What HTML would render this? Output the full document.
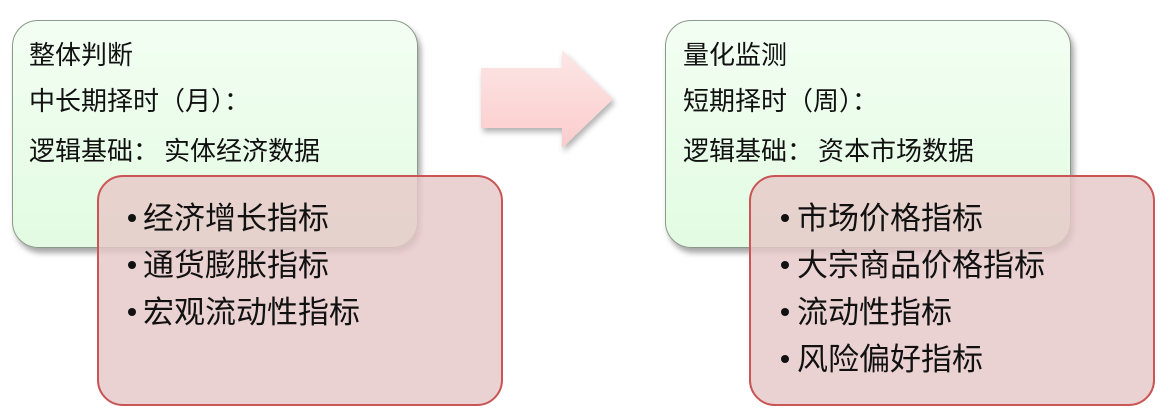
<!DOCTYPE html>
<html><head><meta charset="utf-8"><style>
body{margin:0;width:1170px;height:417px;background:#fff;position:relative;overflow:hidden;font-family:"Liberation Sans","Noto Sans CJK SC",sans-serif;}
.g{position:absolute;width:406px;height:228px;border:1.5px solid #8a9a8a;border-radius:26px;background:linear-gradient(#f3fef3,#e2fbe2);box-shadow:3px 5px 6px rgba(0,0,0,0.35);box-sizing:border-box;}
.r{position:absolute;width:406px;height:231px;border:2px solid #c95555;border-radius:26px;background:rgba(230,200,200,0.82);box-sizing:border-box;}
.t{position:absolute;font-size:26px;color:#111;white-space:nowrap;line-height:1;}
.b{position:absolute;font-size:31px;color:#111;white-space:nowrap;line-height:1;}
.dot{position:absolute;width:8px;height:8px;border-radius:50%;background:#111;}
</style></head><body>
<div class="g" style="left:12px;top:20px"></div>
<div class="g" style="left:665px;top:20px"></div>
<svg style="position:absolute;left:0;top:0" width="1170" height="417">
<defs><linearGradient id="a" x1="0" y1="0" x2="0" y2="1"><stop offset="0" stop-color="#fde6e6"/><stop offset="1" stop-color="#fbcccc"/></linearGradient>
<filter id="s"><feDropShadow dx="2" dy="4" stdDeviation="3" flood-opacity="0.3"/></filter></defs>
<polygon points="481,68 562,68 562,50 613,99 562,148 562,128 481,128" fill="url(#a)" filter="url(#s)"/>
</svg>
<div class="t" style="left:29px;top:42px">整体判断</div>
<div class="t" style="left:29px;top:88px">中长期择时（月）：</div>
<div class="t" style="left:29px;top:138px">逻辑基础：<span style="margin-left:5px">实体经济数据</span></div>
<div class="t" style="left:683px;top:42px">量化监测</div>
<div class="t" style="left:683px;top:88px">短期择时（周）：</div>
<div class="t" style="left:683px;top:138px">逻辑基础：<span style="margin-left:5px">资本市场数据</span></div>
<div class="r" style="left:97px;top:175px"></div>
<div class="r" style="left:749px;top:175px"></div>
<div class="dot" style="left:128px;top:214px"></div><div class="b" style="left:143px;top:203px">经济增长指标</div>
<div class="dot" style="left:128px;top:261px"></div><div class="b" style="left:143px;top:250px">通货膨胀指标</div>
<div class="dot" style="left:128px;top:308px"></div><div class="b" style="left:143px;top:297px">宏观流动性指标</div>
<div class="dot" style="left:781px;top:214px"></div><div class="b" style="left:797px;top:203px">市场价格指标</div>
<div class="dot" style="left:781px;top:261px"></div><div class="b" style="left:797px;top:250px">大宗商品价格指标</div>
<div class="dot" style="left:781px;top:308px"></div><div class="b" style="left:797px;top:297px">流动性指标</div>
<div class="dot" style="left:781px;top:355px"></div><div class="b" style="left:797px;top:344px">风险偏好指标</div>
</body></html>
